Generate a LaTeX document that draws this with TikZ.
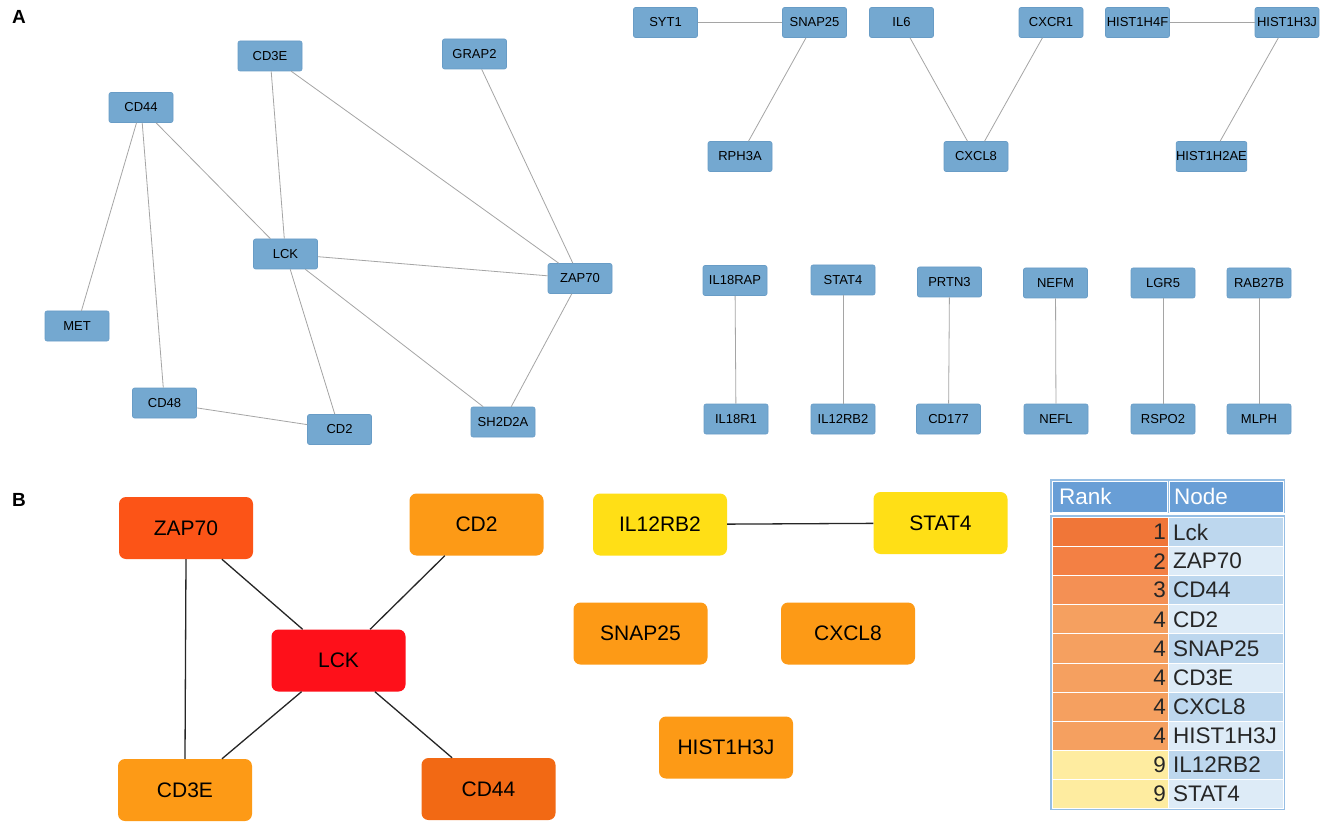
\documentclass[tikz,border=0pt]{standalone}
\usepackage{fontspec}
\setmainfont{Liberation Sans}
\begin{document}
\definecolor{afill}{RGB}{116,168,208}
\definecolor{aline}{RGB}{104,156,198}
\definecolor{aedge}{RGB}{165,165,165}
\definecolor{cred}{RGB}{254,16,26}
\definecolor{czap}{RGB}{252,84,23}
\definecolor{ccdf}{RGB}{242,105,20}
\definecolor{corg}{RGB}{253,154,22}
\definecolor{cyel}{RGB}{255,223,22}
\definecolor{thead}{RGB}{104,158,214}
\definecolor{tframe}{RGB}{150,190,228}
\definecolor{nodeA}{RGB}{189,215,238}
\definecolor{nodeB}{RGB}{221,235,247}
\definecolor{rk1}{RGB}{240,118,56}
\definecolor{rk2}{RGB}{243,128,68}
\definecolor{rk3}{RGB}{244,144,84}
\definecolor{rk4}{RGB}{245,160,96}
\definecolor{rk9}{RGB}{254,236,160}
\begin{tikzpicture}[x=1pt,y=-1pt,
  anode/.style={rectangle,rounded corners=2pt,fill=afill,draw=aline,line width=0.6pt,
    minimum width=64pt,minimum height=30pt,inner sep=0pt,
    font=\fontsize{13}{13}\selectfont,text=black},
  aedge/.style={draw=aedge,line width=0.8pt},
  bnode/.style={rectangle,rounded corners=7pt,minimum width=134pt,minimum height=62pt,
    inner sep=0pt,font=\fontsize{21}{21}\selectfont,text=black},
  bedge/.style={draw=black!85,line width=1.3pt},
  panel/.style={font=\bfseries\fontsize{19}{19}\selectfont},
  tcell/.style={rectangle,minimum height=29.1pt,inner sep=0pt,draw=white,line width=1pt},
  ttext/.style={font=\fontsize{22.5}{22.5}\selectfont,inner sep=0pt,text=black!85}
]
\useasboundingbox (0,0) rectangle (1325,834);
\fill[white] (0,0) rectangle (1325,834);

% ---------- Panel A ----------
\node[panel] (labA) at (19,16.5) {A};

\node[anode] (cd3e) at (270,56) {CD3E};
\node[anode] (cd44) at (141,107.5) {CD44};
\node[anode] (grap2) at (474.5,54) {GRAP2};
\node[anode] (lck) at (285.5,254) {LCK};
\node[anode] (zap70) at (580,278.5) {ZAP70};
\node[anode] (met) at (77,326) {MET};
\node[anode] (cd48) at (164.5,403) {CD48};
\node[anode] (cd2) at (339.5,429.5) {CD2};
\node[anode] (sh2d2a) at (503,422) {SH2D2A};

\draw[aedge] (cd44) -- (met);
\draw[aedge] (cd44) -- (cd48);
\draw[aedge] (cd44) -- (lck);
\draw[aedge] (cd3e) -- (lck);
\draw[aedge] (cd3e) -- (zap70);
\draw[aedge] (grap2) -- (zap70);
\draw[aedge] (lck) -- (zap70);
\draw[aedge] (lck) -- (cd2);
\draw[aedge] (lck) -- (sh2d2a);
\draw[aedge] (zap70) -- (sh2d2a);
\draw[aedge] (cd48) -- (cd2);

\node[anode] (syt1) at (665.5,22.5) {SYT1};
\node[anode] (snap25a) at (814.5,22.5) {SNAP25};
\node[anode] (il6) at (901.5,22.5) {IL6};
\node[anode] (cxcr1) at (1051,22.5) {CXCR1};
\node[anode] (h4f) at (1137.5,22.5) {HIST1H4F};
\node[anode] (h3ja) at (1287,22.5) {HIST1H3J};
\node[anode] (rph3a) at (740,156.5) {RPH3A};
\node[anode] (cxcl8a) at (976,156.5) {CXCL8};
\node[anode] (h2ae) at (1211.5,156.5) {HIST1H2AE};

\draw[aedge] (syt1) -- (snap25a);
\draw[aedge] (snap25a) -- (rph3a);
\draw[aedge] (il6) -- (cxcl8a);
\draw[aedge] (cxcr1) -- (cxcl8a);
\draw[aedge] (h4f) -- (h3ja);
\draw[aedge] (h3ja) -- (h2ae);

\node[anode] (il18rap) at (735,280.5) {IL18RAP};
\node[anode] (stat4a) at (843,280) {STAT4};
\node[anode] (prtn3) at (949.5,282) {PRTN3};
\node[anode] (nefm) at (1055.5,283) {NEFM};
\node[anode] (lgr5) at (1163,283) {LGR5};
\node[anode] (rab27b) at (1259,283) {RAB27B};
\node[anode] (il18r1) at (736,419) {IL18R1};
\node[anode] (il12rb2a) at (843,419) {IL12RB2};
\node[anode] (cd177) at (948.5,419) {CD177};
\node[anode] (nefl) at (1056,419) {NEFL};
\node[anode] (rspo2) at (1163,419) {RSPO2};
\node[anode] (mlph) at (1259,419) {MLPH};

\draw[aedge] (il18rap) -- (il18r1);
\draw[aedge] (stat4a) -- (il12rb2a);
\draw[aedge] (prtn3) -- (cd177);
\draw[aedge] (nefm) -- (nefl);
\draw[aedge] (lgr5) -- (rspo2);
\draw[aedge] (rab27b) -- (mlph);

% ---------- Panel B ----------
\node[panel] (labB) at (19,500) {B};

\node[bnode,fill=czap] (bzap) at (186,528) {ZAP70};
\node[bnode,fill=corg] (bcd2) at (476.5,524.5) {CD2};
\node[bnode,fill=cred] (blck) at (338.5,660.5) {LCK};
\node[bnode,fill=corg] (bcd3e) at (185,790) {CD3E};
\node[bnode,fill=ccdf] (bcd44) at (488.5,789) {CD44};

\draw[bedge] (bzap) -- (blck);
\draw[bedge] (bcd2) -- (blck);
\draw[bedge] (blck) -- (bcd3e);
\draw[bedge] (blck) -- (bcd44);
\draw[bedge] (bzap.south) -- (bcd3e.north);

\node[bnode,fill=cyel] (bil12) at (660,524.5) {IL12RB2};
\node[bnode,fill=cyel] (bstat4) at (940.5,523) {STAT4};
\node[bnode,fill=corg] (bsnap) at (640.5,633.5) {SNAP25};
\node[bnode,fill=corg] (bcxcl8) at (848,633.5) {CXCL8};
\node[bnode,fill=corg] (bhist) at (726,747.5) {HIST1H3J};

\draw[bedge] (bil12) -- (bstat4);

% ---------- Table ----------
\fill[tframe] (1050,479) rectangle (1285,513);
\node[tcell,fill=thead,minimum width=115pt,minimum height=31pt,anchor=north west] (hrank) at (1052,481) {};
\node[tcell,fill=thead,minimum width=114pt,minimum height=31pt,anchor=north west] (hnode) at (1169,481) {};
\node[ttext,text=white,anchor=west] (trank) at (1059,496.5) {Rank};
\node[ttext,text=white,anchor=west] (tnode) at (1174,496.5) {Node};

\fill[tframe] (1050,515) rectangle (1285,810);
\foreach \i/\r/\n/\rc/\nc in {1/1/Lck/rk1/nodeA,2/2/ZAP70/rk2/nodeB,3/3/CD44/rk3/nodeA,
  4/4/CD2/rk4/nodeB,5/4/SNAP25/rk4/nodeA,6/4/CD3E/rk4/nodeB,7/4/CXCL8/rk4/nodeA,
  8/4/HIST1H3J/rk4/nodeB,9/9/IL12RB2/rk9/nodeA,10/9/STAT4/rk9/nodeB}{
  \node[tcell,fill=\rc,minimum width=116pt,anchor=north west] (rc\i) at (1052,{517+29.1*(\i-1)}) {};
  \node[tcell,fill=\nc,minimum width=115pt,anchor=north west] (nc\i) at (1168,{517+29.1*(\i-1)}) {};
  \node[ttext,anchor=east] (rt\i) at ([xshift=-3pt]rc\i.east) {\r};
  \node[ttext,anchor=west] (nt\i) at ([xshift=5pt]nc\i.west) {\n};
}
\end{tikzpicture}
\end{document}
